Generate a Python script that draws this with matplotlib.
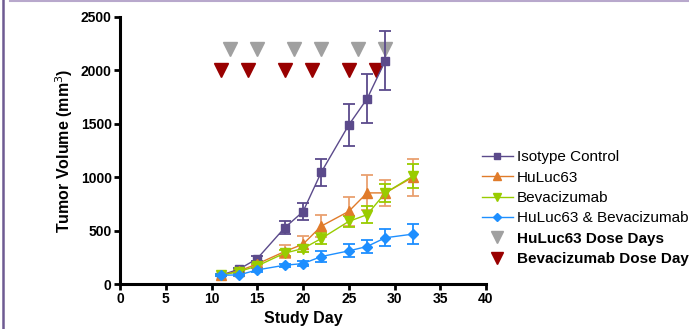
import matplotlib
matplotlib.use("Agg")
import matplotlib.pyplot as plt
from matplotlib.lines import Line2D

plt.rcParams['font.family'] = ['Liberation Sans', 'DejaVu Sans']

# Data
days_iso = [11, 13, 15, 18, 20, 22, 25, 27, 29]
iso = [82, 138, 238, 527, 677, 1047, 1489, 1734, 2091]
iso_err = [10, 15, 25, 63, 78, 125, 200, 230, 275]

days = [11, 13, 15, 18, 20, 22, 25, 27, 29, 32]
huluc = [82, 122, 188, 304, 373, 542, 680, 853, 853, 1000]
huluc_err = [10, 12, 20, 60, 75, 100, 138, 163, 122, 172]

bev = [82, 116, 169, 289, 332, 426, 586, 649, 853, 1010]
bev_err = [10, 12, 18, 30, 30, 50, 52, 78, 85, 110]

combo = [82, 85, 132, 176, 191, 257, 310, 351, 433, 467]
combo_err = [8, 10, 15, 15, 20, 50, 60, 63, 78, 95]

huluc_dose_days = [12, 15, 19, 22, 26, 29]
huluc_dose_level = 2200
bev_dose_days = [11, 14, 18, 21, 25, 28]
bev_dose_level = 2000

xticks = [0, 5, 10, 15, 20, 25, 30, 35, 40]
yticks = [0, 500, 1000, 1500, 2000, 2500]

c_iso = '#5b4a8b'
c_hul = '#e07b2a'
c_bev = '#99cc00'
c_com = '#1e8fff'
c_grey = '#a0a0a0'
c_red = '#990000'

fig = plt.figure(figsize=(6.89, 3.29), dpi=100)
ax = fig.add_axes([120/689, 45/329, 366/689, 267/329])

def series(x, y, e, color, marker, ms, ecolor, label):
    ax.errorbar(x, y, yerr=e, color=color, marker=marker, markersize=ms,
                linewidth=1.0, elinewidth=1.3, capsize=4, capthick=1.3,
                ecolor=ecolor, label=label, zorder=3)

series(days_iso, iso, iso_err, c_iso, 's', 6, c_iso, 'Isotype Control')
series(days, huluc, huluc_err, c_hul, '^', 6.5, '#e9a070', 'HuLuc63')
series(days, bev, bev_err, c_bev, 'v', 7, c_bev, 'Bevacizumab')
series(days, combo, combo_err, c_com, 'D', 5, c_com, 'HuLuc63 & Bevacizumab')

ax.plot(huluc_dose_days, [huluc_dose_level]*len(huluc_dose_days), 'v',
        color=c_grey, markersize=10, linestyle='none', zorder=2)
ax.plot(bev_dose_days, [bev_dose_level]*len(bev_dose_days), 'v',
        color=c_red, markersize=10, linestyle='none', zorder=2)

ax.set_xlim(0, 40)
ax.set_ylim(0, 2500)
ax.set_xticks(xticks)
ax.set_yticks(yticks)
for s in ['top', 'right']:
    ax.spines[s].set_visible(False)
for s in ['left', 'bottom']:
    ax.spines[s].set_linewidth(2.2)
ax.tick_params(direction='out', length=4, width=2, labelsize=10, pad=2)
for lab in ax.get_xticklabels() + ax.get_yticklabels():
    lab.set_fontweight('bold')
ax.set_xlabel('Study Day', fontsize=11.5, fontweight='bold', labelpad=3)
ax.set_ylabel('Tumor Volume (mm$^3$)', fontsize=11.5, fontweight='bold', labelpad=4)
ax.patch.set_alpha(0)

handles = [
    Line2D([], [], color=c_iso, marker='s', markersize=5, linewidth=1),
    Line2D([], [], color=c_hul, marker='^', markersize=6, linewidth=1),
    Line2D([], [], color=c_bev, marker='v', markersize=6, linewidth=1),
    Line2D([], [], color=c_com, marker='D', markersize=4.5, linewidth=1),
    Line2D([], [], color=c_grey, marker='v', markersize=9, linestyle='none'),
    Line2D([], [], color=c_red, marker='v', markersize=9, linestyle='none'),
]
labels = ['Isotype Control', 'HuLuc63', 'Bevacizumab', 'HuLuc63 & Bevacizumab',
          'HuLuc63 Dose Days', 'Bevacizumab Dose Days']
leg = fig.legend(handles, labels, loc='upper left', bbox_to_anchor=(476/689, 1 - 144/329),
                 frameon=False, fontsize=11, labelspacing=0.42, handlelength=2.0,
                 handletextpad=0.3, borderaxespad=0)
for t in leg.get_texts()[4:]:
    t.set_fontweight('bold')

# Frame lines
fig.add_artist(Line2D([3/689, 3/689], [0, 1], transform=fig.transFigure,
                      color='#6e5b92', linewidth=1.8))
fig.add_artist(Line2D([10/689, 1], [1 - 0.5/329, 1 - 0.5/329], transform=fig.transFigure,
                      color='#b8a8cc', linewidth=1.5))

fig.savefig('out.png', dpi=100)
